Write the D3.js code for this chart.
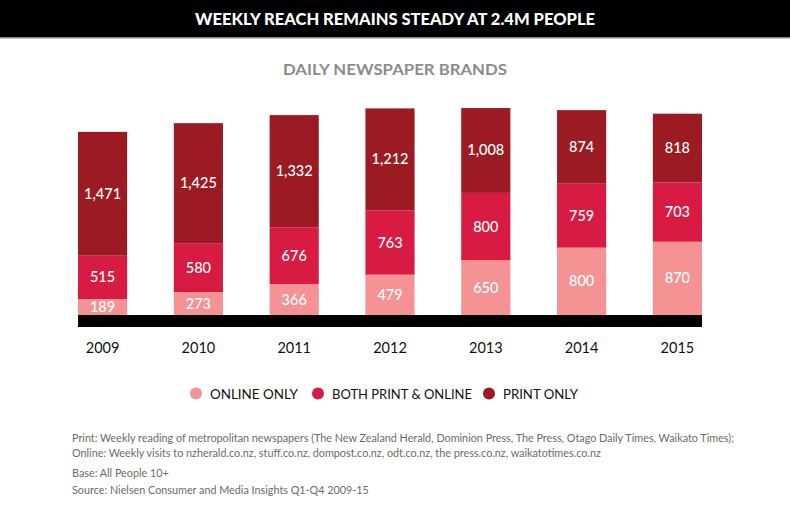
<!DOCTYPE html>
<html>
<head>
<meta charset="utf-8">
<script src="https://cdn.jsdelivr.net/npm/d3@7"></script>
<style>
  body{margin:0;background:#fff;}
  svg{display:block;font-family:Lato,"Open Sans",sans-serif;}
</style>
</head>
<body>
<div id="chart"></div>
<script>
// data
const years=["2009","2010","2011","2012","2013","2014","2015"];
const onlineOnly=[189,273,366,479,650,800,870];
const bothPrintOnline=[515,580,676,763,800,759,703];
const printOnly=[1471,1425,1332,1212,1008,874,818];
const seriesNames=["ONLINE ONLY","BOTH PRINT & ONLINE","PRINT ONLY"];
const seriesColors=["#f59294","#d81b42","#9c1b22"];
const footLines=[
  "Print: Weekly reading of metropolitan newspapers (The New Zealand Herald, Dominion Press, The Press, Otago Daily Times, Waikato Times);",
  "Online: Weekly visits to nzherald.co.nz, stuff.co.nz, dompost.co.nz, odt.co.nz, the press.co.nz, waikatotimes.co.nz",
  "Base: All People 10+",
  "Source: Nielsen Consumer and Media Insights Q1-Q4 2009-15"
];

(function(){
  const W=790,H=512;
  const svg=d3.select('#chart').append('svg').attr('width',W).attr('height',H);

  // header band
  svg.append('rect').attr('x',0).attr('y',0).attr('width',W).attr('height',37).attr('fill','#000');
  svg.append('rect').attr('x',0).attr('y',37).attr('width',W).attr('height',1.5).attr('fill','#8a8a8a');
  svg.append('text').attr('x',W/2).attr('y',24.5).attr('text-anchor','middle')
    .attr('fill','#fff').style('font-size','16px').style('font-weight',900)
    .attr('textLength',400).attr('lengthAdjust','spacingAndGlyphs')
    .text('WEEKLY REACH REMAINS STEADY AT 2.4M PEOPLE');

  svg.append('text').attr('x',W/2).attr('y',75).attr('text-anchor','middle')
    .attr('fill','#8c8c8c').style('font-size','15.5px').style('font-weight',700)
    .attr('textLength',224).attr('lengthAdjust','spacingAndGlyphs')
    .text('DAILY NEWSPAPER BRANDS');

  const keys=['online','both','print'];
  const table=years.map((yr,i)=>({year:yr,online:onlineOnly[i],both:bothPrintOnline[i],print:printOnly[i]}));
  const stack=d3.stack().keys(keys)(table);

  const x=d3.scaleBand().domain(years).range([78,702]).paddingInner(0.487).paddingOuter(0);
  const y=d3.scaleLinear().domain([0,2500]).range([315,104.5]);
  const color=d3.scaleOrdinal().domain(keys).range(seriesColors);
  const fmt=d3.format(',');

  const layers=svg.selectAll('g.layer').data(stack).join('g').attr('class','layer')
    .attr('fill',d=>color(d.key));
  layers.selectAll('rect').data(d=>d).join('rect')
    .attr('x',d=>x(d.data.year)).attr('width',x.bandwidth())
    .attr('y',d=>y(d[1])).attr('height',d=>y(d[0])-y(d[1]));

  const labels=svg.append('g');
  stack.forEach(layer=>{
    labels.selectAll(null).data(layer).join('text')
      .attr('x',d=>x(d.data.year)+x.bandwidth()/2)
      .attr('y',d=>(y(d[0])+y(d[1]))/2+5)
      .attr('text-anchor','middle').attr('fill','#fff')
      .style('font-size','14.5px').style('font-weight',500)
      .text(d=>fmt(d[1]-d[0]));
  });

  // black baseline band
  svg.append('rect').attr('x',78).attr('y',315).attr('width',624).attr('height',12).attr('fill','#000');

  // year axis
  const ax=svg.append('g').attr('transform','translate(0,327)')
    .call(d3.axisBottom(x).tickSize(0).tickPadding(10));
  ax.select('.domain').remove();
  ax.selectAll('text').attr('fill','#111').style('font-size','14.5px').style('font-family','Lato,sans-serif').attr('dy','1.1em');

  // legend
  const legX=[196,318,489];
  const legW=[88,140,75];
  const lg=svg.append('g');
  seriesNames.forEach((name,i)=>{
    lg.append('circle').attr('cx',legX[i]).attr('cy',393.5).attr('r',6).attr('fill',seriesColors[i]);
    lg.append('text').attr('x',legX[i]+14).attr('y',399).attr('fill','#111')
      .style('font-size','14px').attr('textLength',legW[i]).attr('lengthAdjust','spacingAndGlyphs').text(name);
  });

  // footnotes
  const fy=[442,457,477,494];
  svg.append('g').selectAll('text').data(footLines).join('text')
    .attr('x',72).attr('y',(d,i)=>fy[i]).attr('fill','#6b6b6b')
    .style('font-size','10.8px').attr('textLength',(d,i)=>i===0?662:null)
    .attr('lengthAdjust','spacingAndGlyphs').text(d=>d);
})();
</script>
</body>
</html>
